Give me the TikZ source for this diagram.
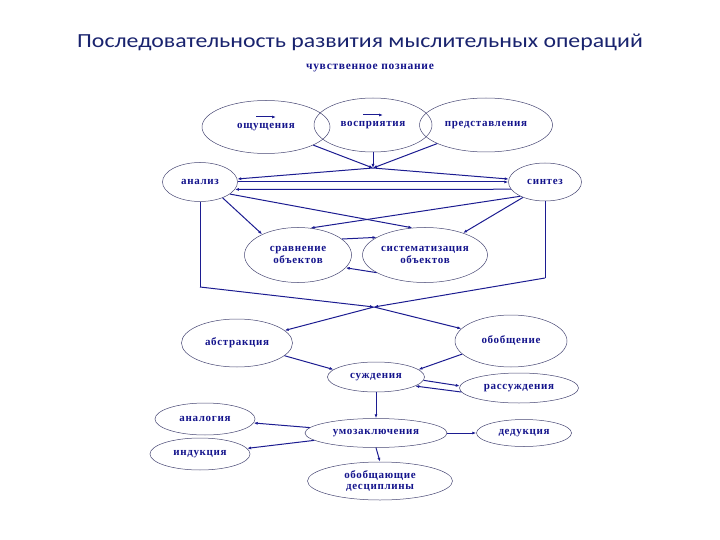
\documentclass[tikz,border=0pt]{standalone}
\usepackage{fontspec}
\setmainfont{Liberation Serif}
\newfontfamily\titlefont{Carlito}
\newfontfamily\dfont[LetterSpace=6]{Liberation Serif Bold}
\usetikzlibrary{arrows.meta,shapes.geometric}
\definecolor{navy}{RGB}{28,28,145}
\definecolor{rim}{RGB}{70,70,115}
\definecolor{ink}{RGB}{20,20,140}
\definecolor{titleblue}{RGB}{25,35,110}
\begin{document}
\begin{tikzpicture}[x=1pt,y=-1pt,
      oval/.style={ellipse, draw=rim, line width=0.5pt, inner sep=0pt,
        text=ink, font=\dfont\fontsize{11}{11.5}\selectfont, align=center},
      link/.style={-{Latex[length=4pt,width=3pt]}, draw=navy, line width=1pt},
      plain/.style={draw=navy, line width=1pt}
    ]
    \useasboundingbox (0,0) rectangle (720,540);

    \node[text=titleblue, font=\titlefont\fontsize{20}{20}\selectfont] (title) at (360,42)
      {\scalebox{1.19}[1]{Последовательность развития мыслительных операций}};
    \node[text=ink, font=\dfont\fontsize{11.5}{11.5}\selectfont] (head) at (370,68)
      {чувственное познание};

    % чувственное познание
    \node[oval, minimum width=128, minimum height=53] (oshch) at (266,127) {ощущения};
    \node[oval, minimum width=118, minimum height=54] (vospr) at (373,125) {восприятия};
    \node[oval, minimum width=133, minimum height=54] (pred) at (486,125) {представления};
    \draw[link] ([xshift=-10pt,yshift=10pt]oshch.center) -- ++(20,0);
    \draw[link] ([xshift=-10pt,yshift=10pt]vospr.center) -- ++(20,0);

    \node[oval, minimum width=75, minimum height=39] (anal) at (200,182) {анализ};
    \node[oval, minimum width=73, minimum height=38] (sint) at (545,182) {синтез};
    \node[oval, minimum width=107, minimum height=55] (srav) at (298,255) {сравнение\\объектов};
    \node[oval, minimum width=125, minimum height=55] (sist) at (425,255) {систематизация\\объектов};

    \node[oval, minimum width=111, minimum height=48] (abstr) at (237,343) {абстракция};
    \node[oval, minimum width=112, minimum height=52] (obob) at (511,341) {обобщение};
    \node[oval, minimum width=97, minimum height=30] (sujd) at (376,377) {суждения};
    \node[oval, minimum width=119, minimum height=30] (rass) at (519,388) {рассуждения};
    \node[oval, minimum width=142, minimum height=29] (umoz) at (376,433) {умозаключения};
    \node[oval, minimum width=95, minimum height=27] (dedu) at (524,433) {дедукция};
    \node[oval, minimum width=100, minimum height=32] (analg) at (205,419) {аналогия};
    \node[oval, minimum width=100, minimum height=32] (indu) at (200,454) {индукция};
    \node[oval, minimum width=145, minimum height=38] (disc) at (380,481) {обобщающие\\десциплины};

    \coordinate (conv) at (373,168);
    \coordinate (lbend) at (200,287);
    \coordinate (rbend) at (545,278);
    \coordinate (cross) at (374,307);

    \foreach \n in {oshch,vospr,pred} {
      \draw[link] (\n) -- (conv);
    }
    \draw[link] (conv) -- (anal);
    \draw[link] (conv) -- (sint);
    \draw[link] (anal.east) -- (sint.west);
    \draw[link] (sint.192) -- (anal.-12);

    \draw[link] (anal.-22) -- (sist.115);
    \draw[link] (anal.-35) -- (srav.150);
    \draw[link] (sint.210) -- (srav.65);
    \draw[link] (sint.215) -- (sist.30);
    \draw[link] (srav.20) -- (sist.160);
    \draw[link] (sist.200) -- (srav.-15);

    \draw[plain] (anal.south) -- (lbend);
    \draw[plain] (sint.south) -- (rbend);
    \draw[link] (lbend) -- (cross);
    \draw[link] (rbend) -- (cross);
    \draw[link] (cross) -- (abstr);
    \draw[link] (cross) -- (obob);

    \draw[link] (abstr.-15) -- (sujd.170);
    \draw[link] (obob.195) -- (sujd.10);
    \draw[link] (sujd.-4) -- (rass.178);
    \draw[link] (rass.184) -- (sujd.-13);
    \draw[link] (sujd.south) -- (umoz.north);

    \draw[link] (umoz.east) -- (dedu.west);
    \draw[link] (umoz) -- (analg);
    \draw[link] (umoz) -- (indu);
    \draw[link] (umoz.south) -- (disc.north);
  \end{tikzpicture}
\end{document}
